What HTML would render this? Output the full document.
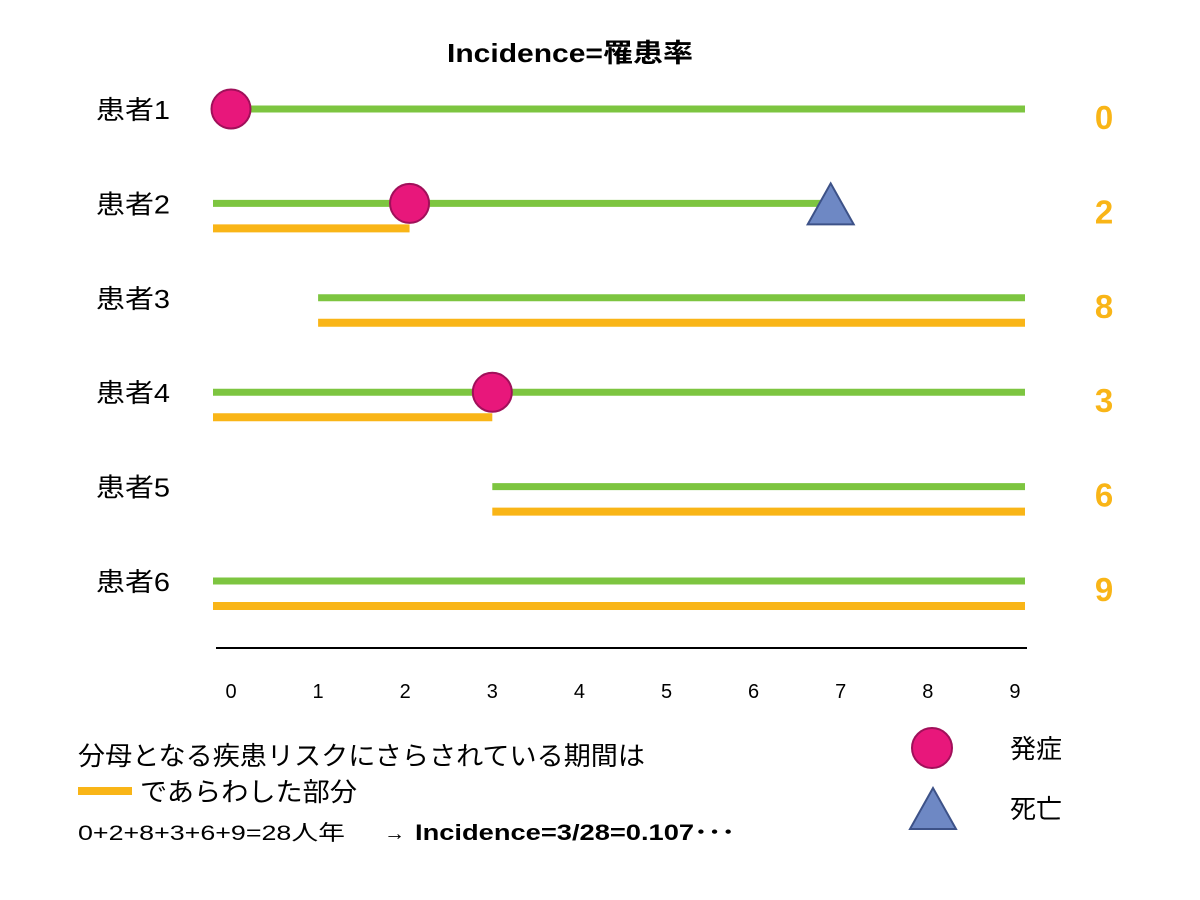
<!DOCTYPE html>
<html><head><meta charset="utf-8"><style>
body{margin:0;background:#fff;}
svg{display:block;font-family:"Liberation Sans","Noto Sans CJK JP",sans-serif;}
</style></head><body>
<svg id="chart" width="1200" height="900">
<text x="447" y="62" font-size="26" font-weight="bold" textLength="246" lengthAdjust="spacingAndGlyphs">Incidence=罹患率</text>
<g id="rows"></g>
<line x1="216" y1="648" x2="1027" y2="648" stroke="#000" stroke-width="2"/>
<g id="ticks"></g>
<text x="78" y="765" font-size="26" textLength="567" lengthAdjust="spacingAndGlyphs">分母となる疾患リスクにさらされている期間は</text>
<line x1="78" y1="791" x2="132" y2="791" stroke="#F9B517" stroke-width="8"/>
<text x="140" y="801" font-size="26" textLength="217" lengthAdjust="spacingAndGlyphs">であらわした部分</text>
<text x="78" y="840" font-size="21" textLength="267" lengthAdjust="spacingAndGlyphs">0+2+8+3+6+9=28人年</text>
<text x="384" y="840" font-size="21">→</text>
<text x="415" y="840" font-size="22" font-weight="bold" textLength="320" lengthAdjust="spacingAndGlyphs">Incidence=3/28=0.107･･･</text>
<circle cx="932" cy="748" r="20" fill="#E8177B" stroke="#A0105A" stroke-width="2"/>
<text x="1010" y="758" font-size="26">発症</text>
<polygon points="933,788 910,829 956,829" fill="#6E88C4" stroke="#3D5288" stroke-width="2"/>
<text x="1010" y="818" font-size="26">死亡</text>
</svg>
<script>
const patients=["患者1","患者2","患者3","患者4","患者5","患者6"];
const greenStart=[0,0,1,0,3,0];
const greenEnd=[9,7,9,9,9,9];
const orangeStart=[null,0,1,0,3,0];
const orangeEnd=[null,2.05,9,3,9,9];
const onset=[0,2.05,null,3,null,null];
const death=[null,7,null,null,null,null];
const riskYears=[0,2,8,3,6,9];
const tickLabels=[0,1,2,3,4,5,6,7,8,9];

const NS="http://www.w3.org/2000/svg";
const x=v=>231+v*87.1;
const ex0=v=>v===0?213:x(v);
const ex1=v=>v===9?1025:x(v);
const rowY=i=>109+i*94.4;
const rows=document.getElementById('rows');
function mk(tag,attrs,parent){const e=document.createElementNS(NS,tag);for(const k in attrs)e.setAttribute(k,attrs[k]);parent.appendChild(e);return e;}
patients.forEach((p,i)=>{
  const y=rowY(i);
  const t=mk('text',{x:96,y:y+10,'font-size':26,textLength:74,lengthAdjust:'spacingAndGlyphs'},rows);t.textContent=p;
  
  
  const gs=(onset[i]===0)?x(0):ex0(greenStart[i]);
  const ge=death[i]!=null?x(greenEnd[i])-10:ex1(greenEnd[i]);
  const g=mk('line',{x1:gs,y1:y,x2:ge,y2:y,stroke:'#7DC540','stroke-width':7},rows);
  
  
  if(orangeStart[i]!=null){
    const oy=y+25;
    const o=mk('line',{x1:ex0(orangeStart[i]),y1:oy,x2:ex1(orangeEnd[i]),y2:oy,stroke:'#F9B517','stroke-width':8},rows);
    
    
  }
  if(onset[i]!=null){
    const c=mk('circle',{cx:x(onset[i]),cy:y,r:19.5,fill:'#E8177B',stroke:'#A0105A','stroke-width':2},rows);
    
    
  }
  if(death[i]!=null){
    const cx=x(death[i])-10;
    const tr=mk('polygon',{points:`${cx},${y-20} ${cx-23},${y+21} ${cx+23},${y+21}`,fill:'#6E88C4',stroke:'#3D5288','stroke-width':2},rows);
    
    
  }
  const n=mk('text',{x:1104,y:y+20,'font-size':33,'font-weight':'bold',fill:'#F9B517','text-anchor':'middle'},rows);
  n.textContent=riskYears[i];
  
  
});
const ticks=document.getElementById('ticks');
tickLabels.forEach(v=>{
  const t=mk('text',{x:x(v),y:698,'font-size':20,'text-anchor':'middle'},ticks);
  t.textContent=v;
  
  
});
</script>
</body></html>
